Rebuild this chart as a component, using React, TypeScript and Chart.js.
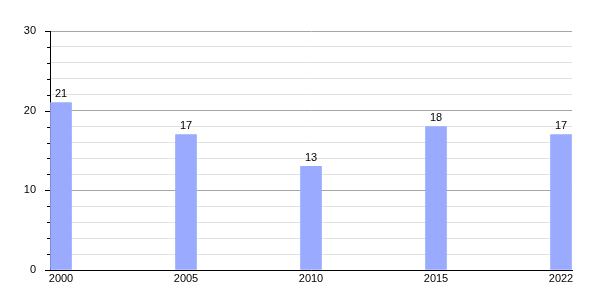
import React, { useEffect, useRef } from "react";
import { Chart, registerables } from "chart.js";
Chart.register(...registerables);

// Data
const years: string[] = ["2000", "2005", "2010", "2015", "2022"];
const values: number[] = [21, 17, 13, 18, 17];
const yMajorTicks: number[] = [0, 10, 20, 30];

// Layout constants (not data)
const SLOT_OFFSET = 0.088;
const X_MAX = 4.176;
const FONT = '"Liberation Sans", Arial, Helvetica, sans-serif';

const customPlugin = {
  id: "customDraw",
  afterDraw(chart: any) {
    const ctx = chart.ctx;
    const yScale = chart.scales.y;
    const left = chart.chartArea.left;
    ctx.save();
    ctx.strokeStyle = "#000";
    ctx.lineWidth = 1;
    yScale.ticks.forEach((t: any) => {
      const py = Math.round(yScale.getPixelForValue(t.value)) + 0.5;
      const len = yMajorTicks.includes(t.value) ? 5 : 3;
      ctx.beginPath();
      ctx.moveTo(left - len, py);
      ctx.lineTo(left, py);
      ctx.stroke();
    });
    const meta = chart.getDatasetMeta(0);
    ctx.fillStyle = "#000";
    ctx.font = `11px ${FONT}`;
    ctx.textAlign = "center";
    ctx.textBaseline = "bottom";
    meta.data.forEach((bar: any, i: number) => {
      ctx.fillText(String(values[i]), bar.x, bar.y - 3);
    });
    ctx.restore();
  },
};

export default function App() {
  const ref = useRef<HTMLCanvasElement>(null);
  useEffect(() => {
    if (!ref.current) return;
    const chart = new Chart(ref.current, {
      type: "bar",
      data: {
        datasets: [
          {
            data: values.map((v, i) => ({ x: i + SLOT_OFFSET, y: v })),
            backgroundColor: "#99aaff",
            borderWidth: 0,
            barThickness: 21,
          },
        ],
      },
      options: {
        responsive: false,
        animation: false,
        layout: { padding: { top: 31, right: 28, bottom: 0, left: 0 } },
        plugins: { legend: { display: false }, tooltip: { enabled: false } },
        scales: {
          x: {
            type: "linear",
            min: 0,
            max: X_MAX,
            offset: false,
            grid: { display: false, drawTicks: false, offset: false },
            border: { color: "#000", width: 1 },
            afterBuildTicks: (scale: any) => {
              scale.ticks = years.map((_, i) => ({ value: i + SLOT_OFFSET }));
            },
            afterFit: (scale: any) => {
              scale.height = 30;
            },
            ticks: {
              autoSkip: false,
              maxRotation: 0,
              padding: 2,
              color: "#000",
              font: { size: 11, family: FONT },
              callback: (_v: any, i: number) => years[i],
            },
          },
          y: {
            min: 0,
            max: 30,
            grid: {
              drawTicks: false,
              color: (c: any) =>
                yMajorTicks.includes(c.tick?.value) ? "#a6a6a6" : "#e2e2e2",
            },
            border: { color: "#000", width: 1 },
            afterFit: (scale: any) => {
              scale.width = 50;
            },
            ticks: {
              stepSize: 2,
              autoSkip: false,
              padding: 14,
              color: "#000",
              font: { size: 11, family: FONT },
              callback: (v: any) => (yMajorTicks.includes(v) ? String(v) : ""),
            },
          },
        },
      },
      plugins: [customPlugin],
    } as any);
    return () => chart.destroy();
  }, []);
  return (
    <div style={{ position: "absolute", left: 0, top: 0, width: 600, height: 300, background: "#fff" }}>
      <canvas ref={ref} width={600} height={300} />
    </div>
  );
}
